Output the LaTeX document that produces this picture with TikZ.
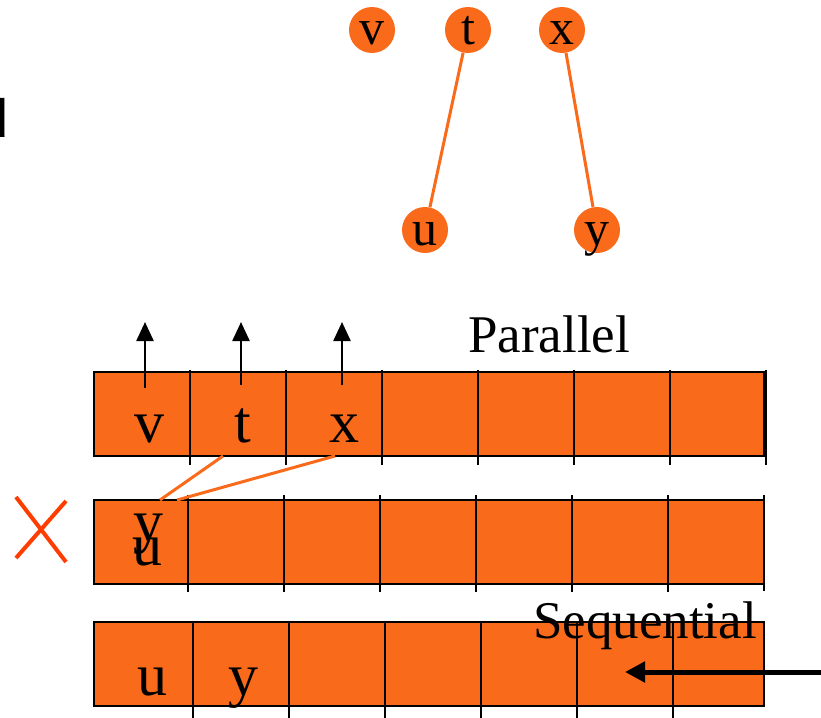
\documentclass[tikz,border=0pt]{standalone}
\usepackage{fontspec}
\setmainfont{Liberation Serif}
\newfontfamily\sansfont{Liberation Sans}
\usetikzlibrary{arrows.meta}
\definecolor{cellorange}{RGB}{249,106,27}
\definecolor{crossred}{RGB}{255,61,0}

\begin{document}
\begin{tikzpicture}[x=1pt, y=-1pt,
    vert/.style={circle, fill=cellorange, minimum size=46pt, inner sep=0pt,
                 text height=34pt, text depth=4pt,
                 font=\fontsize{50}{50}\selectfont},
    link/.style={draw=cellorange, line width=3pt},
    cellbox/.style={fill=cellorange, draw=black, line width=1.8pt},
    divider/.style={black, line width=1.6pt},
    letter/.style={font=\fontsize{60}{60}\selectfont, anchor=base, inner sep=0pt},
    caption/.style={font=\fontsize{53}{53}\selectfont, anchor=base west, inner sep=0pt},
    uparrow/.style={-{Triangle[width=17pt,length=19pt]}, line width=2.4pt}]
    \useasboundingbox (0,0) rectangle (821,717);
    \clip (0,0) rectangle (821,717);

    \node[font=\sansfont\fontsize{54}{54}\selectfont, anchor=base east, inner sep=0pt] (cut) at (9,137) {d};

    % graph
    \node[vert] (v) at (372,30) {v};
    \node[vert] (t) at (468,30) {t};
    \node[vert] (x) at (562,30) {x};
    \node[vert] (u) at (425,230) {u};
    \node[vert] (y) at (597,230) {y};
    \draw[link] (t) -- (u);
    \draw[link] (x) -- (y);

    % arrays
    \foreach \top/\dx/\up/\down in {372/0/2/9, 500/-2/5/8, 622/3/0/14} {
        \path[cellbox] (94,\top) rectangle (764,\top+84);
        \foreach \k in {1,...,6}
            \draw[divider] (94+96*\k+\dx,\top-\up) -- ++(0,84+\up+\down);
    }
    \draw[divider] (766,370) -- (766,465);
    \draw[divider] (764,495) -- (764,591);

    \node[caption] (par) at (468,352) {Parallel};
    \node[caption] (seq) at (533,638) {Sequential};

    \node[letter] (pv) at (149,442) {v};
    \node[letter] (pt) at (243,442) {t};
    \node[letter] (px) at (344,442) {x};
    \node[letter] (by) at (148,541) {y};
    \node[letter] (bu) at (147,565) {u};
    \node[letter] (su) at (152,695) {u};
    \node[letter] (sy) at (243,695) {y};

    \coordinate (pv-in) at (145,388);
    \coordinate (pt-in) at (241,385);
    \coordinate (px-in) at (342,385);
    \draw[uparrow] (pv-in) -- ++(0,-66);
    \draw[uparrow] (pt-in) -- ++(0,-63);
    \draw[uparrow] (px-in) -- ++(0,-63);

    \coordinate (pt-out) at (223,456);
    \coordinate (px-out) at (335,456);
    \coordinate (by-in1) at (160,500);
    \coordinate (by-in2) at (177,500);
    \draw[link] (pt-out) -- (by-in1);
    \draw[link] (px-out) -- (by-in2);

    \draw[crossred, line width=4pt] (16,497) -- (66,562) (66,501) -- (16,558);

    \coordinate (feed) at (830,672);
    \coordinate (feed-end) at (625,672);
    \draw[line width=5pt, -{Triangle[width=20pt,length=20pt]}] (feed) -- (feed-end);
\end{tikzpicture}
\end{document}
